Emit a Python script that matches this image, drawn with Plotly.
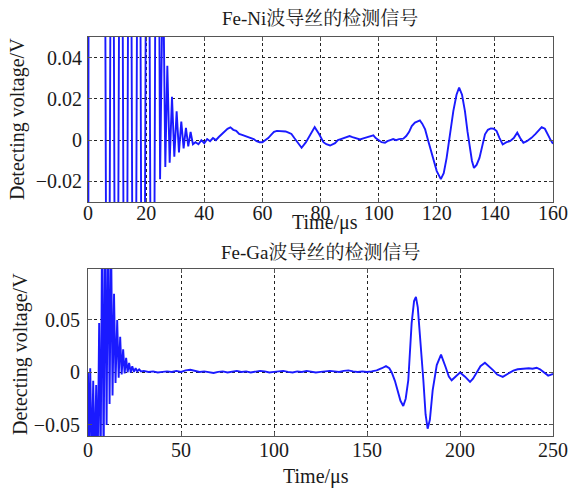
import plotly.graph_objects as go

# ---------------- data: Fe-Ni wire (top) ----------------
ni_t = [0, 0.3, 5.4, 6.8, 8.3, 9.75, 11.3, 12.9, 14.35, 15.9, 17.5, 18.9, 20.5, 22.2, 23.75,
        24.8, 25.8, 26.6, 27.3, 28.1, 28.9, 29.7, 30.5, 31.3, 32.1, 32.9, 33.7, 34.5, 35.3, 36.1,
        37, 38, 39, 40, 41, 42, 43, 44, 45, 46, 47, 48, 49, 50, 51, 52, 53, 54, 55, 56, 57, 58,
        59, 60, 61, 62, 63, 64, 65, 66, 67, 68, 69, 70, 71, 72, 73.5, 75, 76.5, 78, 79.5, 81,
        82, 83.3, 85, 86, 87, 88, 89, 90, 91, 92, 93.6, 95, 96, 97, 98.2, 99, 100, 101, 102.2,
        103, 104, 105, 106, 107, 108.5, 109.5, 110.5, 111.4, 112.5, 113.3, 114.2, 115, 116,
        117.2, 118.8, 120, 121.4, 122.4, 123.4, 124.5, 125.7, 126.8, 127.7, 128.7, 129.7,
        130.6, 131.4, 132.1, 132.8, 133.7, 134.7, 135.6, 136.6, 137.6, 138.6, 139.6, 140.6,
        141.6, 142.7, 144, 145.2, 146.5, 147.7, 148.7, 149.8, 151, 152.6, 154, 155, 156.1,
        157.2, 158.4, 159.2, 160]
ni_v = [-0.3, 0.3, 0.3, -0.3, 0.3, -0.3, 0.3, -0.3, 0.3, -0.3, 0.3, -0.3, 0.3, -0.3, 0.3,
        -0.019, 0.09, -0.013, 0.036, -0.011, 0.021, -0.008, 0.014, -0.006, 0.009, -0.004, 0.006,
        -0.003, 0.004, -0.002, -0.001, -0.002, 0.0, -0.0015, 0.0005, -0.0005, 0.001, 0.0,
        0.0015, 0.003, 0.004, 0.0055, 0.0062, 0.005, 0.0045, 0.003, 0.0025, 0.002, 0.0015,
        0.001, 0.0005, -0.0005, -0.001, -0.001, 0.0, 0.001, 0.0025, 0.004, 0.0045, 0.0044,
        0.004, 0.0042, 0.0036, 0.003, 0.001, -0.001, -0.0037, -0.001, 0.003, 0.0063, 0.003,
        -0.001, -0.002, -0.0026, -0.0015, 0.0, 0.0005, 0.001, 0.0015, 0.002, 0.0015, 0.001,
        0.0003, 0.001, 0.0015, 0.002, 0.0023, 0.001, 0.0, -0.001, -0.0013, -0.0005, 0.0,
        0.0005, 0.0, 0.0005, 0.0007, 0.002, 0.004, 0.0068, 0.0085, 0.009, 0.0096, 0.008,
        0.0052, -0.001, -0.0086, -0.015, -0.0189, -0.016, -0.0086, 0.003, 0.0141, 0.022,
        0.0255, 0.022, 0.0141, 0.004, -0.0037, -0.01, -0.0135, -0.012, -0.0086, -0.003,
        0.0028, 0.005, 0.0057, 0.0055, 0.0044, 0.001, -0.0021, -0.001, -0.0005, 0.001,
        0.0036, 0.001, -0.0013, -0.0005, 0.0011, 0.003, 0.0045, 0.0063, 0.0055, 0.002,
        0.0, -0.0018]

# ---------------- data: Fe-Ga wire (bottom) ----------------
ga_t = [0, 0.4, 1.2, 2.0, 2.8, 3.6, 4.4, 5.2, 6.0, 6.8, 7.6, 8.4, 9.2, 10.0, 10.8, 11.6,
        12.4, 13.2, 14.0, 14.8, 15.7, 16.5, 17.3, 18.1, 18.9, 19.7, 20.5, 21.3, 22.1, 23.0,
        23.8, 24.7, 25.6, 26.5, 27.5, 28.5, 30, 32.5, 35, 37.5, 40, 42.5, 45, 47.5, 50, 52.5,
        55, 57.5, 60, 62.5, 65, 67.5, 70, 72.5, 75, 77.5, 80, 82.5, 85, 87.5, 90, 92.5, 95,
        97.5, 100, 102.5, 105, 107.5, 110, 112.5, 115, 117.5, 120, 122.5, 125, 127.5, 130,
        132.5, 135, 137.5, 140, 142.5, 145, 147.5, 150, 152.5, 155.2, 158, 160.2, 162, 163.3,
        165, 166, 168, 169.5, 170.8, 172.2, 174, 175.3, 176.3, 177.3, 178.5, 180.3, 181.5,
        182.6, 183.8, 185.3, 187.5, 189.8, 192.3, 194, 195.5, 198.2, 200, 202.7, 205.4, 207,
        209, 211, 213.4, 215.5, 217.9, 220, 223, 226, 228.7, 231, 234, 237, 239, 241.2, 243,
        244.8, 247.4, 249, 250]
ga_v = [0.0, -0.09, 0.004, -0.09, -0.008, -0.09, -0.012, -0.09, 0.047, -0.09, 0.15, -0.09,
        0.15, -0.05, 0.15, -0.03, 0.13, -0.022, 0.075, -0.01, 0.05, -0.005, 0.034, -0.002,
        0.022, -0.001, 0.014, 0.0, 0.009, 0.0, 0.006, 0.0005, 0.004, 0.001, 0.003, 0.001,
        0.0015, 0.0005, 0.001, 0.0, 0.0005, 0.001, 0.0005, 0.0015, 0.0005, 0.002, 0.0025,
        0.0015, 0.0005, 0.001, 0.0, -0.0005, 0.0005, 0.001, 0.0, 0.001, 0.0015, 0.0005,
        0.001, 0.0, 0.0005, 0.0015, 0.001, 0.0, 0.0005, 0.001, 0.0015, 0.0005, 0.0, 0.001,
        0.0005, 0.0015, 0.001, 0.0, 0.0005, 0.001, 0.0015, 0.001, 0.0005, 0.0015, 0.002,
        0.001, 0.0005, 0.001, 0.0005, 0.001, 0.002, 0.004, 0.006, 0.004, 0.0, -0.008,
        -0.0137, -0.027, -0.032, -0.025, -0.0074, 0.047, 0.068, 0.072, 0.062, 0.037, -0.0074,
        -0.04, -0.0535, -0.045, -0.017, 0.007, 0.017, 0.005, -0.004, -0.0074, -0.0026, 0.0,
        -0.004, -0.009, -0.006, 0.0, 0.006, 0.0092, 0.006, 0.002, -0.002, -0.0042, -0.001,
        0.0018, 0.003, 0.0038, 0.004, 0.0035, 0.0045, 0.003, 0.0005, -0.003, -0.002, -0.0015]

# ---------------- ticks and labels ----------------
ni_xticks = [0, 20, 40, 60, 80, 100, 120, 140, 160]
ni_yticks = [-0.02, 0, 0.02, 0.04]
ni_yticktext = ["\u22120.02", "0", "0.02", "0.04"]
ga_xticks = [0, 50, 100, 150, 200, 250]
ga_yticks = [-0.05, 0, 0.05]
ga_yticktext = ["\u22120.05", "0", "0.05"]

title_ni = "Fe-Ni波导丝的检测信号"
title_ga = "Fe-Ga波导丝的检测信号"
xlabel = "Time/\u03bcs"
ylabel = "Detecting voltage/V"

FONT = "Liberation Serif, Noto Serif CJK SC, Noto Sans CJK SC, serif"
LINE_COLOR = "#1a1aff"

fig = go.Figure()
fig.add_trace(go.Scatter(x=ni_t, y=ni_v, mode="lines",
                         line=dict(color=LINE_COLOR, width=1.9),
                         xaxis="x", yaxis="y", showlegend=False, hoverinfo="skip"))
fig.add_trace(go.Scatter(x=ga_t, y=ga_v, mode="lines",
                         line=dict(color=LINE_COLOR, width=1.9),
                         xaxis="x2", yaxis="y2", showlegend=False, hoverinfo="skip"))

W, H = 571, 491
xd = [88 / W, 553 / W]
yd1 = [(H - 202) / H, (H - 37) / H]
yd2 = [(H - 436) / H, (H - 269) / H]

axis_common = dict(showline=True, mirror="all", linecolor="#555555", linewidth=1,
                   showgrid=True, gridcolor="#222222", griddash="dot", gridwidth=1,
                   ticks="inside", ticklen=4, tickcolor="#555555", automargin=False,
                   zeroline=False, tickfont=dict(family=FONT, size=20, color="#1a1a1a"))

fig.update_layout(
    width=W, height=H, autosize=False,
    margin=dict(l=0, r=0, t=0, b=0, autoexpand=False),
    paper_bgcolor="white", plot_bgcolor="white",
    xaxis=dict(domain=xd, range=[0, 160], tickvals=ni_xticks, anchor="y",
               ticklabelstandoff=-7, **axis_common),
    yaxis=dict(domain=yd1, range=[-0.03, 0.05], tickvals=ni_yticks, ticktext=ni_yticktext,
               anchor="x", ticklabelstandoff=1, **axis_common),
    xaxis2=dict(domain=xd, range=[0, 250], tickvals=ga_xticks, anchor="y2",
                ticklabelstandoff=-4, **axis_common),
    yaxis2=dict(domain=yd2, range=[-0.0605, 0.0985], tickvals=ga_yticks, ticktext=ga_yticktext,
                anchor="x2", ticklabelstandoff=3, **axis_common),
)

def ann(text, x, y, angle=0, size=20):
    fig.add_annotation(text=text, x=x / W, y=1 - y / H, xref="paper", yref="paper",
                       showarrow=False, textangle=angle, xanchor="center", yanchor="middle",
                       font=dict(family=FONT, size=size, color="#1a1a1a"))

ann(title_ni, 320, 18, size=19)
ann(title_ga, 320, 252, size=19)
ann(xlabel, 325, 222)
ann(xlabel, 316, 476)
ann(ylabel, 18, 119, angle=-90)
ann(ylabel, 20, 354, angle=-90)

fig.write_html("out.html", config={"displayModeBar": False},
               post_script="document.body.style.margin='0';document.body.style.overflow='hidden';")
